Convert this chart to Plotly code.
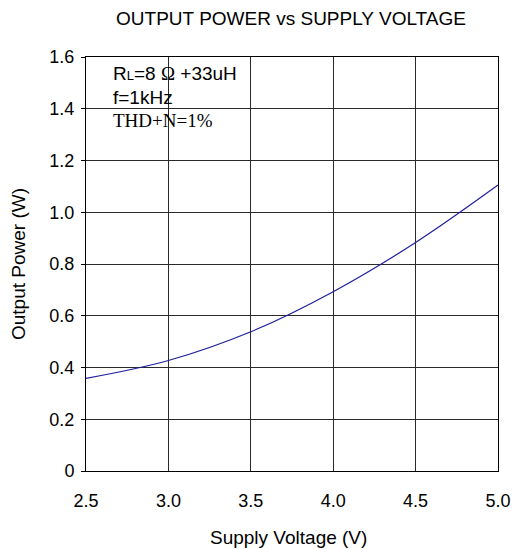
import plotly.graph_objects as go

# Output power at 1% THD+N vs supply voltage
supply_v = [2.5, 3.0, 3.5, 4.0, 4.5, 5.0]
power_w = [0.358, 0.427, 0.538, 0.693, 0.883, 1.105]

x_ticks = [2.5, 3.0, 3.5, 4.0, 4.5, 5.0]
x_tick_text = ["2.5", "3.0", "3.5", "4.0", "4.5", "5.0"]
y_ticks = [0, 0.2, 0.4, 0.6, 0.8, 1.0, 1.2, 1.4, 1.6]
y_tick_text = ["0", "0.2", "0.4", "0.6", "0.8", "1.0", "1.2", "1.4", "1.6"]

FONT = "Liberation Sans, Arial, sans-serif"
SERIF = "Liberation Serif, Times New Roman, serif"

W, H = 521, 549
L, R, T, B = 86, 23, 57, 78
PW, PH = W - L - R, H - T - B


def px_x(px):
    return (px - L) / PW


def px_y(py):
    return (H - B - py) / PH


fig = go.Figure()
fig.add_trace(go.Scatter(
    x=supply_v, y=power_w, mode="lines",
    line=dict(color="#1f1f9e", width=1.2, shape="spline", smoothing=1.0),
    showlegend=False, hoverinfo="skip",
))

fig.update_layout(
    width=W, height=H,
    margin=dict(l=L, r=R, t=T, b=B),
    paper_bgcolor="white", plot_bgcolor="white",
    font=dict(family=FONT, color="black", size=18),
    title=dict(text="OUTPUT POWER vs SUPPLY VOLTAGE", x=291 / W, xanchor="center",
               y=1 - 18 / H, yanchor="middle", font=dict(size=19, family=FONT)),
)

fig.update_xaxes(
    range=[2.5, 5.0], tickvals=x_ticks, ticktext=x_tick_text,
    showgrid=True, gridcolor="#2a2a2a", gridwidth=1,
    showline=True, linecolor="black", linewidth=1, mirror=True,
    ticks="", ticklabelstandoff=13, zeroline=False, automargin=False,
    tickfont=dict(size=18),
)
fig.update_yaxes(
    range=[0, 1.6], tickvals=y_ticks, ticktext=y_tick_text,
    showgrid=True, gridcolor="#2a2a2a", gridwidth=1,
    showline=True, linecolor="black", linewidth=1, mirror=True,
    ticks="outside", ticklen=4, tickcolor="black", ticklabelstandoff=3, zeroline=False,
    automargin=False, tickfont=dict(size=18),
)

# axis titles
fig.add_annotation(
    xref="paper", yref="paper", x=px_x(288), y=px_y(537),
    xanchor="center", yanchor="middle", showarrow=False,
    text="Supply Voltage (V)", font=dict(size=19, family=FONT),
)
fig.add_annotation(
    xref="paper", yref="paper", x=px_x(18), y=px_y(264),
    xanchor="center", yanchor="middle", showarrow=False, textangle=-90,
    text="Output Power (W)", font=dict(size=19, family=FONT),
)

# white panel behind the test-condition text
fig.add_shape(type="rect", xref="paper", yref="paper",
              x0=px_x(103), x1=px_x(243), y0=px_y(113), y1=px_y(75),
              fillcolor="white", line=dict(width=0), layer="between")

fig.add_annotation(
    xref="paper", yref="paper", x=px_x(111), y=px_y(74),
    xanchor="left", yanchor="middle", showarrow=False,
    text=("R<span style='font-size:13px'>L</span>=8 "
          f"<span style='font-family:{SERIF}'>Ω</span> +33uH"),
    font=dict(size=19, family=FONT),
)
fig.add_annotation(
    xref="paper", yref="paper", x=px_x(111), y=px_y(97),
    xanchor="left", yanchor="middle", showarrow=False,
    text="f=1kHz", font=dict(size=19, family=FONT),
)
fig.add_annotation(
    xref="paper", yref="paper", x=px_x(111), y=px_y(120),
    xanchor="left", yanchor="middle", showarrow=False,
    text="THD+N=1%", font=dict(size=19, family=SERIF),
)

fig.write_html("out.html")
